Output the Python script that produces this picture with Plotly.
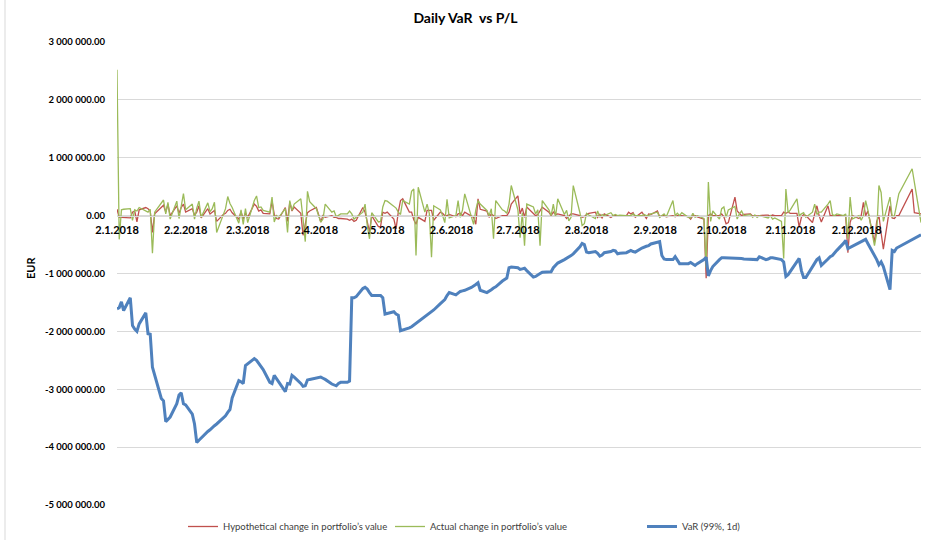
import pandas as pd
import plotly.graph_objects as go

# ---------------- data (values in thousand EUR) ----------------
holidays = ["2018-12-24", "2018-12-25", "2018-12-26"]
dates = [d for d in pd.bdate_range("2018-01-02", "2018-12-31")
         if d.strftime("%Y-%m-%d") not in holidays]

hypothetical = [
    110, -30, -30, -30, -40, 60, 80, -110, 100, 140, 120, 80, -290, 30, 150, 180, 60, 200, 0, 170, 40, 140,  # Jan
    200, 60, 120, 10, 60, 170, -40, 120, 30, 60, 90, -100, 20, 40, 90, 110, 50, -60, 70, -60,  # Feb
    40, -30, 200, 160, 80, 100, 40, 30, 250, 20, -50, -60, 140, -100, 230, 80, 150, 40, -340, -150, 50, 80,  # Mar
    140, 20, -110, 0, -30, 0, -30, -30, -50, -50, -60, -80, -60, -100, -80, 140, 60, -110, -280, 0, -190,  # Apr
    -190, 60, 40, 60, -60, -230, 60, 260, 290, 60, 60, -70, -150, -30, -100, 90, 90, 90, -80, 60, 40, 0, 0,  # May
    20, -20, 30, 40, 0, 60, 0, -30, -150, 290, 110, 80, -30, 30, 0, -50, 0, 0, 0, 60, 200,  # Jun
    340, 30, 130, -30, 150, 40, 0, 20, 90, 145, 60, 0, 60, 20, 30, 0, -50, 0, 30, 30, 0, -30,  # Jul
    -20, 20, 40, 60, -30, 20, -40, 30, -30, 0, 0, 0, 0, 0, 60, 30, 50, -30, 60, 0, -50, 30, 20,  # Aug
    80, -20, 0, 0, -20, 0, -20, 0, 0, 0, -20, -60, 0, 0, -20, -60, -1080, 0, 30, 0,  # Sep
    0, 30, -20, -140, -120, 320, 80, 30, 0, 20, 30, -10, 0, -10, 0, 10, 10, -10, 10, 0, 0, 60, 40,  # Oct
    60, 40, 40, -200, -30, 20, 0, -120, 30, 170, 0, -110, 170, 0, 0, 0, 0, 0, -20, -640, -120, 0,  # Nov
    -50, 0, 230, 0, 80, -460, -100, 0, -300, -580, 170, -40, -50, 0, 0, 460, 50, 30,  # Dec
]

actual = [
    2520, -410, 100, 110, 120, -80, 100, 80, 140, 90, 60, 110, -650, 60, 210, 270, 30, 230, -60, 250, -50, 200,  # Jan
    380, 100, 200, -60, 130, 250, -30, 220, 70, 120, 230, -290, 30, 120, 330, 210, 140, -130, 100, -150,  # Feb
    120, -120, 260, 340, 140, 150, 90, 60, 320, -110, 0, -30, 120, -290, 260, 90, 200, 290, -60, -450, 420, 240,  # Mar
    120, 0, -110, -60, 200, 60, 80, -20, 0, 30, 30, 80, 30, -60, -30, 60, 200, -170, -400, 50, -110,  # Apr
    -100, 150, 260, 250, 150, 130, 60, 20, 260, 200, 420, 460, -690, 490, 60, 200, 40, -720, 170, 100, 0, -120, 280,  # May
    -40, 0, 260, -30, 100, 375, -30, -150, 100, 260, 200, 90, 0, 120, -400, 260, 100, 80, 40, 200, 520,  # Jun
    100, -380, 50, -520, 200, 150, 30, 100, -520, 260, 100, 0, 200, -20, 290, 20, 90, -90, -30, 520, 50, -170,  # Jul
    -140, 40, 10, -50, 80, -30, 20, 0, 50, 0, 20, 0, 10, 0, 0, 0, 30, 0, 0, 20, 0, 0, 30,  # Aug
    60, -30, 0, 30, -20, 260, 0, 40, 0, 50, -30, -40, 40, -30, 0, -50, -900, 580, -100, 80,  # Sep
    -60, 120, 150, -30, 100, 160, -60, 30, 80, 0, 20, -30, 10, -30, 0, -40, -40, 0, -60, -40, -100, -740, 460,  # Oct
    50, 100, 290, 0, 30, 50, -30, 60, 200, 20, 60, 60, 200, 260, 20, 0, 30, 0, 30, -400, 320, -60,  # Nov
    0, -80, 0, 260, 100, -520, -300, 520, 400, -100, 320, -30, 0, 200, 380, 810, 560, -120,  # Dec
]

var_99_1d = [
    -1610, -1590, -1490, -1640, -1420, -1900, -1960, -2000, -1870, -1680, -2040, -2050, -2620, -2750, -3160,
    -3200, -3560, -3520, -3480, -3250, -3100, -3060,  # Jan
    -3250, -3270, -3430, -3600, -3920, -3880, -3840, -3730, -3700, -3660, -3630, -3600, -3500, -3460, -3400,
    -3350, -3150, -2850, -2870, -2900,  # Feb
    -2590, -2560, -2470, -2500, -2550, -2620, -2660, -2880, -2900, -2760, -2820, -2870, -3040, -2900, -2910,
    -2760, -2790, -2900, -2950, -2940, -2840, -2830,  # Mar
    -2800, -2790, -2790, -2810, -2830, -2910, -2930, -2940, -2900, -2880, -2880, -2860, -1420, -1420, -1400,
    -1260, -1240, -1270, -1330, -1380, -1380,  # Apr
    -1380, -1420, -1700, -1690, -1660, -1700, -1720, -1990, -1980, -1940, -1920, -1890, -1860, -1840, -1740,
    -1720, -1690, -1660, -1630, -1520, -1490, -1450, -1380,  # May
    -1330, -1370, -1340, -1310, -1300, -1290, -1240, -1220, -1190, -1160, -1290, -1330, -1310, -1280, -1250,
    -1230, -1130, -1100, -1080, -900, -890,  # Jun
    -900, -930, -920, -910, -950, -1060, -1050, -1020, -1000, -980, -980, -970, -900, -860, -820, -760, -740,
    -710, -690, -660, -540, -480,  # Jul
    -500, -630, -640, -620, -650, -700, -680, -640, -620, -600, -610, -660, -650, -640, -620, -600, -620,
    -630, -560, -540, -530, -520, -490,  # Aug
    -460, -450, -690, -750, -760, -760, -710, -780, -830, -830, -830, -810, -840, -860, -830, -760, -720,
    -1040, -950, -880,  # Sep
    -760, -730, -730, -730, -730, -730, -730, -730, -740, -750, -760, -760, -760, -760, -710, -760, -750,
    -730, -730, -740, -760, -800, -1050,  # Oct
    -1020, -960, -800, -740, -950, -1070, -1070, -880, -820, -760, -730, -860, -750, -710, -690, -640, -600,
    -480, -430, -570, -550, -520,  # Nov
    -470, -450, -430, -410, -480, -680, -760, -850, -800, -880, -1280, -600, -620, -560, -540, -420, -400, -330,  # Dec
]

x_tick_dates = ["2018-01-02", "2018-02-02", "2018-03-02", "2018-04-02", "2018-05-02", "2018-06-02",
                "2018-07-02", "2018-08-02", "2018-09-02", "2018-10-02", "2018-11-02", "2018-12-02"]
x_tick_labels = ["2.1.2018", "2.2.2018", "2.3.2018", "2.4.2018", "2.5.2018", "2.6.2018",
                 "2.7.2018", "2.8.2018", "2.9.2018", "2.10.2018", "2.11.2018", "2.12.2018"]
y_tick_values = [-5000, -4000, -3000, -2000, -1000, 0, 1000, 2000, 3000]
y_tick_labels = ["-5 000 000.00", "-4 000 000.00", "-3 000 000.00", "-2 000 000.00", "-1 000 000.00",
                 "0.00", "1 000 000.00", "2 000 000.00", "3 000 000.00"]

series_names = ["Hypothetical change in portfolio\u2019s value",
                "Actual change in portfolio\u2019s value",
                "VaR (99%, 1d)"]

assert len(dates) == len(hypothetical) == len(actual) == len(var_99_1d)

# ---------------- figure ----------------
FONT = "Lato"
W, H = 931, 540
ML, MR, MT, MB = 117, 10, 42, 35

fig = go.Figure()
fig.add_trace(go.Scatter(x=dates, y=hypothetical, mode="lines", name=series_names[0],
                         line=dict(color="#C0504D", width=1.3), legend="legend"))
fig.add_trace(go.Scatter(x=dates, y=actual, mode="lines", name=series_names[1],
                         line=dict(color="#9BBB59", width=1.3), legend="legend2"))
fig.add_trace(go.Scatter(x=dates, y=var_99_1d, mode="lines", name=series_names[2],
                         line=dict(color="#4F81BD", width=3), legend="legend3"))

legend_common = dict(orientation="h", xref="container", yref="container", y=1 - 512 / H,
                     yanchor="top", xanchor="left", bgcolor="rgba(0,0,0,0)",
                     font=dict(family=FONT, size=9.5, color="#404040"))
plot_h = H - MT - MB
plot_w = W - ML - MR

fig.update_layout(
    width=W, height=H,
    margin=dict(l=ML, r=MR, t=MT, b=MB, autoexpand=False),
    paper_bgcolor="white", plot_bgcolor="white",
    title=dict(text="<b>Daily VaR\u00a0 vs P/L</b>", x=0.5, xref="container", xanchor="center",
               y=1 - 18 / H, yref="container", yanchor="middle",
               font=dict(family=FONT, size=14, color="#000000")),
    xaxis=dict(type="date", range=["2018-01-02", "2018-12-31"],
               anchor="free", position=5000 / 8000, automargin=False,
               tickmode="array", tickvals=x_tick_dates, ticktext=x_tick_labels,
               ticks="", ticklabelstandoff=4, showgrid=False, showline=True,
               linecolor="#d9d9d9", linewidth=1,
               tickfont=dict(family=FONT, size=11, color="#000000", weight="bold"),
               zeroline=False, fixedrange=True),
    yaxis=dict(range=[-5000, 3000], tickmode="array", tickvals=y_tick_values, ticktext=y_tick_labels,
               showgrid=True, gridcolor="#d9d9d9", gridwidth=1, zeroline=False, automargin=False,
               ticks="", ticklabelstandoff=11,
               tickfont=dict(family=FONT, size=9.5, color="#000000", weight="bold")),
    legend=dict(legend_common, x=183 / W),
    legend2=dict(legend_common, x=390 / W),
    legend3=dict(legend_common, x=642 / W),
    showlegend=True,
    annotations=[dict(text="<b>EUR</b>", textangle=-90, xref="paper", yref="paper",
                      x=(30 - ML) / plot_w, y=(H - MB - 268) / plot_h,
                      xanchor="center", yanchor="middle", showarrow=False,
                      font=dict(family=FONT, size=11, color="#000000"))],
    shapes=[dict(type="line", xref="paper", yref="paper",
                 x0=(5 - ML) / plot_w, x1=(5 - ML) / plot_w,
                 y0=(H - MB - H) / plot_h, y1=(H - MB) / plot_h,
                 line=dict(color="#d9d9d9", width=1))],
)

fig.write_html("out.html", config={"displayModeBar": False},
               post_script="document.body.style.margin='0';")
